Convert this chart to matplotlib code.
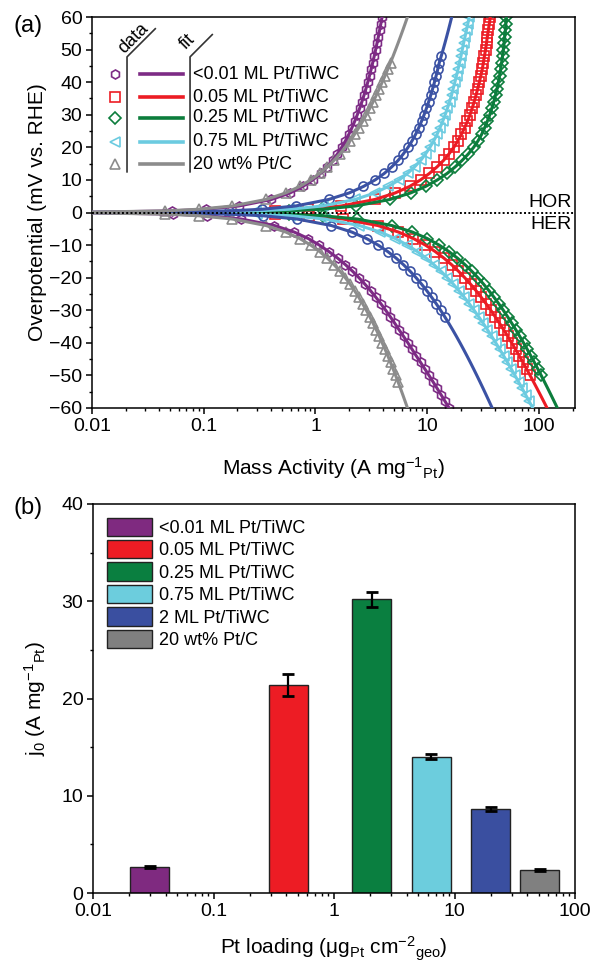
import numpy as np
import matplotlib.pyplot as plt
from matplotlib.patches import Patch
from matplotlib.ticker import FuncFormatter, MultipleLocator

plt.rcParams['font.family'] = ['Liberation Sans', 'DejaVu Sans']
plt.rcParams['mathtext.fontset'] = 'custom'
plt.rcParams['mathtext.rm'] = 'Liberation Sans'
plt.rcParams['mathtext.it'] = 'Liberation Sans:italic'
plt.rcParams['mathtext.default'] = 'regular'

# --- (a) HOR/HER polarisation curves -------------------------------------
# overpotential magnitude (mV); HOR branch is +eta, HER branch is -eta
eta = [0.01, 0.1, 0.5, 1, 2, 4, 6, 8, 10, 12, 14, 16, 18, 20, 22, 24, 26, 28, 30,
       32, 34, 36, 38, 40, 42, 44, 46, 48, 50, 52, 54, 56, 58, 60]

# mass activity (A mg-1 Pt) at each overpotential
hor_purple = [0.00105, 0.0105, 0.0523, 0.104, 0.206, 0.403, 0.591, 0.771, 0.945, 1.111, 1.271, 1.425,
              1.573, 1.716, 1.854, 1.989, 2.118, 2.244, 2.367, 2.486, 2.603, 2.717, 2.828, 2.937,
              3.044, 3.149, 3.252, 3.354, 3.455, 3.554, 3.653, 3.750, 3.847, 3.943]
her_purple = [0.00105, 0.0105, 0.053, 0.1065, 0.2156, 0.4284, 0.6447, 0.8627, 1.082, 1.318, 1.578, 1.852,
              2.142, 2.446, 2.768, 3.109, 3.467, 3.847, 4.248, 4.672, 5.121, 5.597, 6.134, 6.708,
              7.319, 7.971, 8.714, 9.512, 10.367, 11.285, 12.271, 13.327, 14.460, 15.676]
hor_red = [0.0087, 0.0867, 0.431, 0.858, 1.700, 3.405, 5.163, 6.956, 8.708, 10.464, 12.230, 14.005,
           15.656, 17.294, 18.762, 20.197, 21.602, 22.883, 24.129, 25.231, 26.294, 27.317, 28.304, 29.258,
           30.181, 31.074, 31.793, 32.477, 33.283, 33.905, 34.495, 35.229, 35.943, 36.641]
her_red = [0.0087, 0.0867, 0.4355, 0.875, 1.768, 3.609, 5.527, 7.529, 9.620, 11.807, 14.096, 16.493,
           19.008, 21.647, 24.418, 27.332, 30.396, 33.622, 37.018, 40.598, 44.371, 48.352, 52.554, 56.990,
           61.675, 66.627, 71.861, 77.395, 83.249, 89.443, 95.997, 102.937, 110.284, 118.065]
hor_green = [0.0116, 0.1163, 0.5786, 1.153, 2.286, 4.631, 7.098, 9.666, 12.327, 15.082, 17.783, 20.536,
             23.345, 26.009, 28.475, 30.696, 32.625, 34.484, 36.280, 37.864, 39.375, 40.817, 42.195, 43.330,
             44.392, 45.383, 46.307, 47.165, 47.962, 48.698, 49.375, 49.996, 50.560, 51.072]
her_green = [0.0116, 0.1163, 0.584, 1.173, 2.367, 4.822, 7.368, 10.016, 12.769, 15.636, 18.623, 21.740,
             24.993, 28.391, 31.945, 35.664, 39.558, 43.638, 47.915, 52.402, 57.112, 62.057, 67.254, 72.716,
             78.459, 84.501, 90.859, 97.552, 104.602, 112.027, 119.850, 128.095, 136.787, 145.956]
hor_cyan = [0.0059, 0.0591, 0.2936, 0.5844, 1.157, 2.265, 3.396, 4.483, 5.604, 6.664, 7.708, 8.739,
            9.668, 10.569, 11.446, 12.242, 13.010, 13.752, 14.471, 15.167, 15.841, 16.498, 17.056, 17.676,
            18.283, 18.876, 19.458, 20.029, 20.590, 21.144, 21.799, 22.454, 23.109, 23.766]
her_cyan = [0.0059, 0.0591, 0.297, 0.597, 1.208, 2.471, 3.795, 5.182, 6.637, 8.167, 9.776, 11.469,
            13.253, 15.134, 17.120, 19.217, 21.432, 23.775, 26.254, 28.879, 31.659, 34.605, 37.729, 41.044,
            44.559, 48.291, 52.254, 56.463, 60.936, 65.689, 70.741, 76.113, 81.826, 87.902]
hor_blue = [0.00337, 0.0337, 0.1678, 0.3345, 0.6646, 1.312, 2.001, 2.688, 3.415, 4.128, 4.809, 5.489,
            6.116, 6.733, 7.310, 7.874, 8.389, 8.888, 9.372, 9.842, 10.300, 10.746, 11.180, 11.604,
            12.018, 12.423, 12.819, 13.341, 13.866, 14.394, 14.927, 15.465, 16.008, 16.557]
her_blue = [0.00337, 0.0337, 0.169, 0.3392, 0.6834, 1.387, 2.112, 2.861, 3.634, 4.434, 5.263, 6.122,
            7.013, 7.939, 8.902, 9.903, 10.946, 12.033, 13.167, 14.351, 15.587, 16.879, 18.229, 19.643,
            21.122, 22.672, 24.295, 25.997, 27.781, 29.653, 31.618, 33.680, 35.845, 38.119]
hor_gray = [0.0009, 0.009, 0.045, 0.0901, 0.1801, 0.3606, 0.5415, 0.7233, 0.9060, 1.0901, 1.2758, 1.4633,
            1.6528, 1.8448, 2.0395, 2.2371, 2.4380, 2.6423, 2.8505, 3.0628, 3.2795, 3.5009, 3.7274, 3.9513,
            4.1970, 4.4406, 4.6907, 4.9475, 5.2116, 5.4831, 5.7625, 6.0503, 6.3468, 6.6524]
her_gray = [0.0009, 0.009, 0.045, 0.0901, 0.1801, 0.3606, 0.5415, 0.7233, 0.9060, 1.0901, 1.2758, 1.4633,
            1.6528, 1.8448, 2.0395, 2.2371, 2.4380, 2.6423, 2.8505, 3.0628, 3.2795, 3.5009, 3.7274, 3.9513,
            4.1970, 4.4406, 4.6907, 4.9475, 5.2116, 5.4831, 5.7625, 6.0503, 6.3468, 6.6524]

# measured range of each data set (mV); the fits run past it
data_max_hor = [60, 60, 60, 60, 48, 46]
data_max_her = [60, 50, 50, 58, 32, 52]
data_min = 0.5

# --- (b) exchange current densities --------------------------------------
samples = ['<0.01 ML Pt/TiWC', '0.05 ML Pt/TiWC', '0.25 ML Pt/TiWC',
           '0.75 ML Pt/TiWC', '2 ML Pt/TiWC', '20 wt% Pt/C']
loading = [0.0295, 0.416, 2.05, 6.44, 20.0, 51.0]
j0 = [2.7, 21.4, 30.2, 14.0, 8.66, 2.37]
j0_err = [0.1, 1.15, 0.8, 0.25, 0.2, 0.1]

line_colors = ['#7d2b85', '#ec1c24', '#0c7d3c', '#6ccbe0', '#3b52a4', '#8c8c8c']
bar_colors = ['#7f2a80', '#ed1c24', '#0a7f40', '#6ccddd', '#3a4fa0', '#808080']
markers = ['h', 's', 'D', '<', 'o', '^']

hor = [hor_purple, hor_red, hor_green, hor_cyan, hor_blue, hor_gray]
her = [her_purple, her_red, her_green, her_cyan, her_blue, her_gray]

fig = plt.figure(figsize=(5.94, 9.69), dpi=100)
ax1 = fig.add_axes([92 / 594, 1 - 408 / 969, 483 / 594, 391 / 969])
ax2 = fig.add_axes([93 / 594, 1 - 893 / 969, 482 / 594, 389 / 969])

e = np.array(eta)
for k in range(6):
    hx = np.array(hor[k])
    ex = np.array(her[k])
    m_h = (e >= data_min) & (e <= data_max_hor[k])
    m_e = (e >= data_min) & (e <= data_max_her[k])
    for xs, ys in ((hx[m_h], e[m_h]), (ex[m_e], -e[m_e])):
        ax1.plot(xs, ys, ls='none', marker=markers[k], ms=6.5, mfc='none',
                 mec=line_colors[k], mew=1.2, zorder=2)
    ax1.plot(hx, e, color=line_colors[k], lw=2.2, zorder=3)
    ax1.plot(ex, -e, color=line_colors[k], lw=2.2, zorder=3)

ax1.axhline(0, color='black', ls=(0, (1, 1.2)), lw=1.4, zorder=5)
ax1.text(0.993, 0.505, 'HOR', transform=ax1.transAxes, ha='right', va='bottom', fontsize=14)
ax1.text(0.993, 0.49, 'HER', transform=ax1.transAxes, ha='right', va='top', fontsize=14)

ax1.set_xscale('log')
ax1.set_xlim(0.01, 210)
ax1.set_ylim(-60, 60)
ax1.yaxis.set_major_locator(MultipleLocator(10))
ax1.yaxis.set_minor_locator(MultipleLocator(5))
ax1.set_xlabel('Mass Activity (A mg$^{-1}$$_{Pt}$)', fontsize=15)
ax1.set_ylabel('Overpotential (mV vs. RHE)', fontsize=15)
ax1.xaxis.set_label_coords(0.5, -0.12)
ax1.yaxis.set_label_coords(-0.093, 0.5)

# hand-made legend: data column | fit column | label
tr = ax1.transAxes
rows = [0.854, 0.795, 0.742, 0.681, 0.624]
legend_idx = [0, 1, 2, 3, 5]
for r, k in zip(rows, legend_idx):
    ax1.plot([0.048], [r], transform=tr, marker=markers[k], ms=6.5, mfc='none',
             mec=line_colors[k], mew=1.2, ls='none', clip_on=False)
    ax1.plot([0.099, 0.188], [r, r], transform=tr, color=line_colors[k], lw=2.6)
    ax1.text(0.209, r, samples[k], transform=tr, ha='left', va='center', fontsize=13)
ax1.plot([0.0725, 0.0725, 0.131], [0.604, 0.898, 0.970], transform=tr, color='#333333', lw=1.2)
ax1.plot([0.203, 0.203, 0.249], [0.604, 0.898, 0.955], transform=tr, color='#333333', lw=1.2)
ax1.text(0.085, 0.945, 'data', transform=tr, rotation=45, ha='center', va='center', fontsize=13)
ax1.text(0.198, 0.937, 'fit', transform=tr, rotation=45, ha='center', va='center', fontsize=13)

# bars span a fixed factor either side of the loading on the log axis
bar_span = 1.45
lc = np.array(loading)
ax2.bar(lc / bar_span, j0, width=lc * bar_span - lc / bar_span, align='edge',
        color=bar_colors, edgecolor='#222222', lw=1.0, zorder=2)
ax2.errorbar(lc, j0, yerr=j0_err, fmt='none', ecolor='black', elinewidth=1.6,
             capsize=4, capthick=2, zorder=3)
ax2.set_xscale('log')
ax2.set_xlim(0.01, 100)
ax2.set_ylim(0, 40)
ax2.yaxis.set_major_locator(MultipleLocator(10))
ax2.yaxis.set_minor_locator(MultipleLocator(5))
handles = [Patch(facecolor=c, edgecolor='#222222', lw=1.0, label=s) for c, s in zip(bar_colors, samples)]
ax2.legend(handles=handles, loc='upper left', fontsize=13, frameon=False,
           handlelength=2.5, handleheight=1.2, labelspacing=0.17,
           borderpad=0.35, handletextpad=0.4, borderaxespad=0.4)
ax2.set_xlabel('Pt loading (μg$_{Pt}$ cm$^{-2}$$_{geo}$)', fontsize=15)
ax2.set_ylabel('j$_0$ (A mg$^{-1}$$_{Pt}$)', fontsize=15)
ax2.xaxis.set_label_coords(0.5, -0.108)
ax2.yaxis.set_label_coords(-0.093, 0.5)

fmt = FuncFormatter(lambda v, p: '%g' % v)
for ax in (ax1, ax2):
    ax.xaxis.set_major_formatter(fmt)
    ax.tick_params(which='major', direction='out', length=4, width=1.1, labelsize=14, pad=3)
    ax.tick_params(which='minor', direction='out', length=2.5, width=1.0)
    for s in ax.spines.values():
        s.set_linewidth(1.1)

fig.text(0.022, 0.985, '(a)', fontsize=17, ha='left', va='top')
fig.text(0.022, 0.487, '(b)', fontsize=17, ha='left', va='top')

fig.savefig('out.png', dpi=100)
